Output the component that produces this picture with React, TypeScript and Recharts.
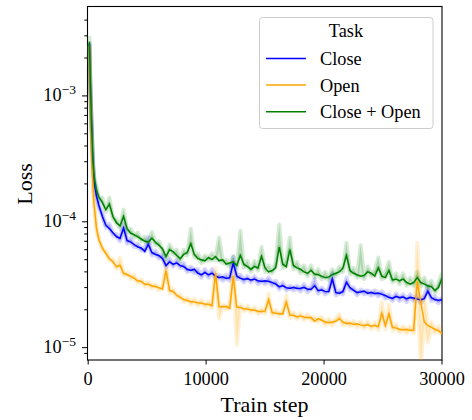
import React from 'react';
import { ComposedChart, Line, Area, XAxis, YAxis, Customized } from 'recharts';

// x grid (train steps)
const STEPS = [
  100, 200, 300, 400, 500, 700, 900, 1200, 1500, 1800, 2100, 2400, 2700, 3000, 3300, 3600, 3900, 4200, 4500, 4800,
  5100, 5400, 5700, 6000, 6300, 6600, 6900, 7200, 7500, 7800, 8100, 8400, 8700, 9000, 9300, 9600, 9900, 10200, 10500, 10800,
  11100, 11400, 11700, 12000, 12300, 12600, 12900, 13200, 13500, 13800, 14100, 14400, 14700, 15000, 15300, 15600, 15900, 16200, 16500, 16800,
  17100, 17400, 17700, 18000, 18300, 18600, 18900, 19200, 19500, 19800, 20100, 20400, 20700, 21000, 21300, 21600, 21900, 22200, 22500, 22800,
  23100, 23400, 23700, 24000, 24300, 24600, 24900, 25200, 25500, 25800, 26100, 26400, 26700, 27000, 27300, 27600, 27900, 28200, 28500, 28800,
  29100, 29400, 29700, 30000,
];

// loss values, in units of 1e-5
const CLOSE = [
  260, 105, 52, 28, 21, 16, 13.6, 11.0, 9.4, 8.8, 8.2, 7.6, 7.4, 8.9, 7.1, 6.9, 6.6, 6.3, 6.2, 5.8,
  6.6, 5.7, 5.5, 5.4, 5.1, 4.5, 4.8, 4.6, 4.7, 4.5, 4.4, 4.2, 4.1, 4.2, 3.9, 3.8, 3.95, 3.8, 3.9, 3.7,
  3.6, 3.65, 3.55, 3.6, 4.7, 3.7, 3.55, 3.5, 3.52, 3.45, 3.5, 3.4, 3.35, 3.4, 3.35, 3.3, 3.2, 3.05, 3.1, 3.0,
  2.95, 3.02, 2.95, 2.97, 3.0, 2.93, 2.9, 3.1, 2.85, 2.87, 2.8, 2.78, 3.5, 2.75, 2.7, 2.8, 3.3, 3.0, 2.85, 2.75,
  2.77, 2.82, 2.7, 2.75, 2.68, 2.72, 2.65, 2.6, 2.5, 2.47, 2.55, 2.5, 2.52, 2.45, 2.5, 2.48, 2.43, 2.4, 2.45, 2.8,
  2.5, 2.4, 2.38, 2.4,
];
const OPEN = [
  250, 95, 40, 19.5, 13.6, 9.0, 7.2, 6.2, 5.6, 5.1, 4.8, 4.4, 4.5, 3.9, 3.8, 3.7, 3.55, 3.4, 3.35, 3.2,
  3.18, 3.1, 3.05, 3.0, 2.92, 4.1, 2.85, 2.78, 2.62, 2.5, 2.42, 2.36, 2.33, 2.3, 2.27, 2.25, 2.22, 2.2, 2.16, 3.9,
  2.12, 2.1, 2.13, 2.05, 3.7, 2.1, 2.08, 2.04, 2.02, 2.0, 1.98, 1.95, 1.93, 1.96, 2.4, 1.9, 1.88, 1.87, 1.85, 2.3,
  1.82, 1.8, 1.76, 1.78, 1.75, 1.73, 1.74, 1.62, 1.7, 1.65, 1.6, 1.58, 1.6, 1.62, 1.7, 1.6, 1.55, 1.57, 1.53, 1.55,
  1.51, 1.5, 1.52, 1.48, 1.5, 1.47, 1.87, 1.5, 1.85, 1.45, 1.43, 1.4, 1.38, 1.4, 1.37, 1.38, 3.35, 2.3, 1.6, 1.5,
  1.45, 1.4, 1.36, 1.3,
];
const BOTH = [
  270, 110, 55, 30, 23, 17.8, 15.8, 14.2, 12.5, 13.8, 11.0, 9.8, 9.3, 11.0, 8.8, 8.1, 7.9, 7.6, 7.3, 7.0,
  6.9, 7.4, 6.9, 6.5, 6.1, 5.3, 6.0, 5.8, 5.4, 5.1, 5.5, 5.7, 6.7, 5.5, 5.1, 5.0, 4.9, 5.2, 5.0, 5.3,
  4.9, 5.0, 4.6, 4.7, 4.8, 4.5, 5.4, 4.6, 4.4, 4.2, 4.4, 4.3, 5.3, 4.3, 4.0, 4.1, 4.3, 6.3, 4.6, 4.4,
  6.0, 4.5, 4.3, 4.2, 4.0, 3.9, 4.1, 3.85, 3.8, 3.7, 3.6, 3.65, 3.8, 3.9, 4.0, 4.3, 5.4, 4.1, 3.9, 3.8,
  3.7, 3.75, 4.0, 3.9, 3.7, 4.3, 3.7, 3.6, 4.1, 3.45, 3.5, 3.4, 3.5, 3.3, 3.2, 3.3, 3.6, 3.3, 3.2, 3.1,
  3.05, 2.85, 3.0, 3.55,
];

// raw (unsmoothed) values, the far edge of the light band, units of 1e-5
const CLOSE_RAW = [
  265, 100, 55, 30, 20, 17, 12.8, 11.8, 9.0, 9.6, 7.8, 8.0, 7.0, 9.6, 6.7, 7.4, 6.3, 6.7, 5.9, 6.2,
  7.6, 5.4, 5.9, 5.1, 5.5, 4.3, 5.1, 4.4, 5.0, 4.3, 4.7, 4.0, 4.4, 3.9, 4.2, 3.6, 4.2, 3.6, 4.2, 3.5,
  3.8, 3.4, 3.8, 3.4, 5.3, 3.5, 3.8, 3.3, 3.7, 3.3, 3.7, 3.2, 3.5, 3.2, 3.6, 3.1, 3.4, 2.9, 3.3, 2.85,
  3.1, 2.85, 3.1, 2.8, 3.2, 2.75, 3.05, 3.5, 2.7, 3.0, 2.65, 2.95, 3.9, 2.6, 2.85, 2.65, 3.6, 2.85, 3.0, 2.6,
  2.9, 2.65, 2.85, 2.6, 2.85, 2.55, 2.8, 2.45, 2.65, 2.35, 2.7, 2.35, 2.65, 2.3, 2.65, 2.35, 2.6, 2.25, 2.6, 3.1,
  2.35, 2.55, 2.25, 2.5,
];
const OPEN_RAW = [
  255, 90, 42, 18, 14.5, 8.5, 7.6, 5.9, 5.9, 4.9, 5.1, 4.2, 5.2, 3.7, 4.0, 3.5, 3.8, 3.25, 3.5, 3.05,
  3.35, 2.95, 3.2, 2.85, 3.1, 4.6, 2.7, 2.95, 2.5, 2.65, 2.3, 2.5, 2.2, 2.45, 2.15, 2.4, 2.1, 2.35, 2.05, 4.3,
  1.7, 2.2, 2.0, 2.25, 4.0, 1.05, 2.2, 1.95, 2.15, 1.9, 2.1, 1.85, 2.05, 1.85, 2.7, 1.8, 2.0, 1.78, 1.97, 2.6,
  1.72, 1.92, 1.68, 1.88, 1.65, 1.85, 1.64, 1.75, 1.6, 1.76, 1.5, 1.7, 1.5, 1.72, 1.85, 1.5, 1.65, 1.48, 1.63, 1.45,
  1.62, 1.42, 1.62, 1.4, 1.6, 1.38, 2.3, 1.4, 2.2, 1.36, 1.55, 1.32, 1.48, 1.3, 1.48, 1.3, 6.8, 0.7, 2.6, 1.1,
  1.6, 1.3, 1.48, 1.25,
];
const BOTH_RAW = [
  300, 115, 60, 33, 22, 19, 15, 15.5, 12, 15.5, 10.5, 10.5, 8.8, 12.5, 8.3, 8.8, 7.5, 8.2, 7.0, 7.6,
  6.6, 8.3, 6.5, 7.0, 5.8, 5.0, 6.6, 5.5, 6.0, 4.8, 6.0, 5.4, 8.8, 5.2, 5.6, 4.7, 5.4, 4.9, 5.6, 5.0,
  7.5, 4.7, 5.0, 4.4, 5.3, 4.3, 8.5, 4.3, 4.9, 4.0, 4.9, 4.1, 6.3, 4.0, 4.5, 3.9, 4.8, 9.5, 4.3, 5.0,
  7.5, 4.2, 4.8, 3.9, 4.5, 3.7, 4.5, 3.6, 4.2, 3.5, 4.0, 3.45, 4.2, 3.7, 4.4, 4.0, 6.8, 3.8, 4.3, 3.6,
  6.5, 3.5, 4.4, 3.7, 4.1, 5.2, 3.5, 4.0, 4.8, 3.3, 3.9, 3.2, 3.9, 3.1, 3.6, 3.1, 4.0, 3.1, 3.6, 2.9,
  3.4, 2.7, 3.3, 3.9,
];

const SERIES_NAMES = ['Close', 'Open', 'Close + Open'];
const SERIES_KEYS = ['close', 'open', 'both'];
const SERIES_COLORS = ['#0000ff', '#ffa500', '#008000'];
const LEGEND_TITLE = 'Task';
const X_LABEL = 'Train step';
const Y_LABEL = 'Loss';
const X_TICKS = [0, 10000, 20000, 30000];
const Y_TICKS = [
  9e-6, 1e-5, 2e-5, 3e-5, 4e-5, 5e-5, 6e-5, 7e-5, 8e-5, 9e-5,
  1e-4, 2e-4, 3e-4, 4e-4, 5e-4, 6e-4, 7e-4, 8e-4, 9e-4,
  1e-3, 2e-3, 3e-3, 4e-3,
];

const UNIT = 1e-5;
const data = STEPS.map((step, i) => ({
  step,
  close: CLOSE[i] * UNIT,
  open: OPEN[i] * UNIT,
  both: BOTH[i] * UNIT,
  close_band: [Math.min(CLOSE[i], CLOSE_RAW[i]) * UNIT, Math.max(CLOSE[i], CLOSE_RAW[i]) * UNIT],
  open_band: [Math.min(OPEN[i], OPEN_RAW[i]) * UNIT, Math.max(OPEN[i], OPEN_RAW[i]) * UNIT],
  both_band: [Math.min(BOTH[i], BOTH_RAW[i]) * UNIT, Math.max(BOTH[i], BOTH_RAW[i]) * UNIT],
}));

const FONT = "'Liberation Serif', 'Times New Roman', Times, serif";

const YTick = (props: any) => {
  const { x, y, payload } = props;
  const v = payload.value;
  const lg = Math.log10(v);
  const major = Math.abs(lg - Math.round(lg)) < 1e-6;
  return (
    <g>
      <line x1={x - (major ? 5 : 2.7)} x2={x} y1={y} y2={y} stroke="#000" strokeWidth={1} />
      {major && (
        <text x={x - 11} y={y + 5} textAnchor="end" fontFamily={FONT} fontSize={18.3} fill="#000">
          10
          <tspan fontSize={13.5} dy={-6.7}>
            {'\u2212' + Math.abs(Math.round(lg))}
          </tspan>
        </text>
      )}
    </g>
  );
};

const XTick = (props: any) => {
  const { x, y, payload } = props;
  return (
    <g>
      <line x1={x} x2={x} y1={y} y2={y + 4.5} stroke="#000" strokeWidth={1} />
      <text x={x} y={y + 24.5} textAnchor="middle" fontFamily={FONT} fontSize={18.3} fill="#000">
        {String(payload.value)}
      </text>
    </g>
  );
};

const Overlay = () => (
  <g>
    <rect x={87.5} y={6.5} width={354.5} height={353.5} fill="none" stroke="#000" strokeWidth={1.1} />
    <text transform="translate(31.5,184) rotate(-90)" textAnchor="middle" fontFamily={FONT} fontSize={22} fill="#000">
      {Y_LABEL}
    </text>
    <text x={264.5} y={411.5} textAnchor="middle" fontFamily={FONT} fontSize={22} fill="#000">
      {X_LABEL}
    </text>
    <rect x={259.5} y={17.5} width={173.5} height={111} rx={3} ry={3} fill="#fff" fillOpacity={0.8} stroke="#cccccc" strokeWidth={1} />
    <text x={346} y={37.3} textAnchor="middle" fontFamily={FONT} fontSize={18.3} fill="#000">
      {LEGEND_TITLE}
    </text>
    {SERIES_NAMES.map((name, i) => (
      <g key={name}>
        <line x1={266} x2={306} y1={58.5 + i * 26.6} y2={58.5 + i * 26.6} stroke={SERIES_COLORS[i]} strokeWidth={1.5} />
        <text x={320} y={65 + i * 26.6} fontFamily={FONT} fontSize={18.3} fill="#000">
          {name}
        </text>
      </g>
    ))}
  </g>
);

export default function App() {
  return (
    <div style={{ position: 'absolute', left: 0, top: 0, width: 472, height: 420, background: '#fff' }}>
      <ComposedChart width={472} height={420} data={data} margin={{ top: 7, right: 30, bottom: 0, left: 0 }}>
        <XAxis
          dataKey="step"
          type="number"
          domain={[-100, 30000]}
          ticks={X_TICKS}
          interval={0}
          allowDataOverflow
          axisLine={false}
          tickLine={false}
          tickSize={0}
          tickMargin={0}
          height={60}
          tick={<XTick />}
        />
        <YAxis
          type="number"
          scale="log"
          domain={[7.98e-6, 5.085e-3]}
          ticks={Y_TICKS}
          interval={0}
          allowDataOverflow
          axisLine={false}
          tickLine={false}
          tickSize={0}
          tickMargin={0}
          width={87}
          tick={<YTick />}
        />
        {SERIES_KEYS.map((k, i) => (
          <Area
            key={k + '_band'}
            dataKey={k + '_band'}
            type="linear"
            fill={SERIES_COLORS[i]}
            fillOpacity={0.18}
            stroke={SERIES_COLORS[i]}
            strokeOpacity={0.16}
            strokeWidth={4}
            strokeLinejoin="round"
            dot={false}
            activeDot={false}
            isAnimationActive={false}
          />
        ))}
        {SERIES_KEYS.map((k, i) => (
          <Line
            key={k}
            dataKey={k}
            type="linear"
            stroke={SERIES_COLORS[i]}
            strokeWidth={1.5}
            dot={false}
            activeDot={false}
            isAnimationActive={false}
          />
        ))}
        <Customized component={Overlay} />
      </ComposedChart>
    </div>
  );
}
